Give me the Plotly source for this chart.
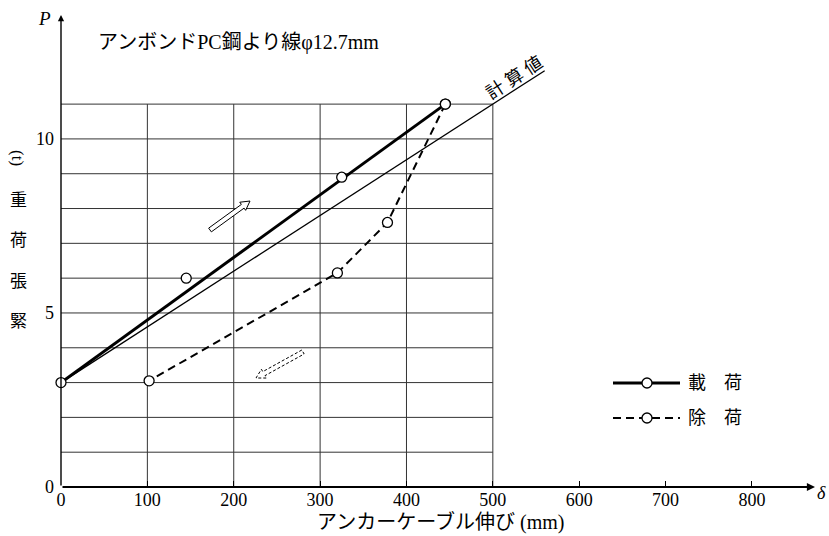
import math
import plotly.graph_objects as go

# ---- data ----
load_line_x = [0, 445]
load_line_y = [3.0, 11.0]
load_pts_x = [0, 145, 325, 445]
load_pts_y = [3.0, 6.0, 8.9, 11.0]

unload_x = [445, 378, 320, 102]
unload_y = [11.0, 7.6, 6.15, 3.05]

calc_x = [0, 560]
calc_y = [3.0, 11.96]

x_ticks = [0, 100, 200, 300, 400, 500, 600, 700, 800]
y_ticks = [0, 5, 10]
grid_x = [100, 200, 300, 400, 500]
grid_y = [1, 2, 3, 4, 5, 6, 7, 8, 9, 10, 11]

XMAX, YMAX = 873, 13.56
L, R, T, B = 61, 14, 15, 49
W, H = 829, 536
PXX = (W - L - R) / XMAX
PXY = (H - T - B) / YMAX

SERIF = "Liberation Serif, Noto Sans CJK JP"
DASH = "8px,5px"


def px2d(px, py):
    return (px - L) / PXX, (H - B - py) / PXY


fig = go.Figure()

# calculated line
fig.add_trace(go.Scatter(x=calc_x, y=calc_y, mode="lines",
                         line=dict(color="black", width=1.3), showlegend=False,
                         hoverinfo="skip"))
# loading
fig.add_trace(go.Scatter(x=load_line_x, y=load_line_y, mode="lines",
                         line=dict(color="black", width=3), showlegend=False))
# unloading
fig.add_trace(go.Scatter(x=unload_x, y=unload_y, mode="lines",
                         line=dict(color="black", width=2, dash=DASH),
                         showlegend=False))
# markers
for xs, ys in [(load_pts_x, load_pts_y), (unload_x, unload_y)]:
    fig.add_trace(go.Scatter(x=xs, y=ys, mode="markers", cliponaxis=False,
                             marker=dict(size=10, color="white",
                                         line=dict(color="black", width=1.3)),
                             showlegend=False))

shapes = []
# grid
for gx in grid_x:
    shapes.append(dict(type="line", xref="x", yref="y", x0=gx, x1=gx, y0=0, y1=11,
                       line=dict(color="#333", width=1), layer="below"))
for gy in grid_y:
    shapes.append(dict(type="line", xref="x", yref="y", x0=0, x1=500, y0=gy, y1=gy,
                       line=dict(color="#333", width=1), layer="below"))


def hollow_arrow(x0, y0, x1, y1, dash="solid", w=2.3, hw=5.0, hl=9.0):
    dx, dy = x1 - x0, y1 - y0
    ln = math.hypot(dx, dy)
    ux, uy = dx / ln, dy / ln
    nx, ny = -uy, ux
    bx, by = x1 - ux * hl, y1 - uy * hl
    pts = [(x0 + nx * w, y0 + ny * w), (bx + nx * w, by + ny * w),
           (bx + nx * hw, by + ny * hw), (x1, y1),
           (bx - nx * hw, by - ny * hw), (bx - nx * w, by - ny * w),
           (x0 - nx * w, y0 - ny * w)]
    d = [px2d(*p) for p in pts]
    path = "M " + " L ".join(f"{a:.3f},{b:.3f}" for a, b in d) + " Z"
    return dict(type="path", xref="x", yref="y", path=path,
                fillcolor="white", line=dict(color="black", width=1, dash=dash))


shapes.append(hollow_arrow(210, 230, 250, 201))
shapes.append(hollow_arrow(303, 352, 256, 378, dash="3px,2px"))


# manual legend (paper pixel positions)
def pp(px, py):
    return (px - L) / (W - L - R), (H - B - py) / (H - T - B)


for ly, dash, wd in [(383, "solid", 3), (418, DASH, 2)]:
    xa, ya = pp(613, ly)
    xb, _ = pp(680, ly)
    shapes.append(dict(type="line", xref="paper", yref="paper", x0=xa, x1=xb,
                       y0=ya, y1=ya, line=dict(color="black", width=wd, dash=dash)))
    cx0, cy0 = pp(642, ly - 5)
    cx1, cy1 = pp(652, ly + 5)
    shapes.append(dict(type="circle", xref="paper", yref="paper", x0=cx0, x1=cx1,
                       y0=cy1, y1=cy0, fillcolor="white",
                       line=dict(color="black", width=1.3)))

annotations = []
# axes arrows
annotations.append(dict(x=XMAX, y=0, ax=0, ay=0, axref="x", ayref="y", xref="x", yref="y",
                        showarrow=True, arrowhead=2, arrowsize=0.9, arrowwidth=1.8,
                        arrowcolor="black", text=""))
annotations.append(dict(x=0, y=YMAX, ax=0, ay=0, axref="x", ayref="y", xref="x", yref="y",
                        showarrow=True, arrowhead=2, arrowsize=0.9, arrowwidth=1.4,
                        arrowcolor="black", text=""))


def txt(px, py, text, size, family=SERIF, angle=0, xanchor="center", italic=False):
    x, y = pp(px, py)
    t = f"<i>{text}</i>" if italic else text
    annotations.append(dict(x=x, y=y, xref="paper", yref="paper", text=t,
                            showarrow=False, textangle=angle, xanchor=xanchor,
                            yanchor="middle", font=dict(family=family, size=size,
                                                        color="black")))


txt(44, 19, "P", 19, italic=True)
txt(821, 493, "δ", 18, italic=True)
txt(96, 43, "アンボンドPC鋼より線φ12.7mm", 20, xanchor="left")
txt(440, 522, "アンカーケーブル伸び (mm)", 20)
for ch, yy in [("緊", 322), ("張", 281), ("荷", 241), ("重", 201)]:
    txt(18, yy, ch, 17)
txt(18, 158, "(t)", 17, angle=90)
txt(514, 78, "計 算 値", 18, angle=-33)
txt(686, 383, "載　荷", 18, xanchor="left")
txt(686, 418, "除　荷", 18, xanchor="left")

fig.update_layout(
    width=W, height=H, autosize=False,
    margin=dict(l=L, r=R, t=T, b=B),
    plot_bgcolor="white", paper_bgcolor="white",
    showlegend=False,
    shapes=shapes, annotations=annotations,
    xaxis=dict(range=[0, XMAX], showgrid=False, zeroline=False, showline=False,
               tickvals=x_ticks, ticktext=[str(v) for v in x_ticks],
               ticks="inside", ticklen=6, tickcolor="black",
               tickfont=dict(family=SERIF, size=18, color="black")),
    yaxis=dict(range=[0, YMAX], showgrid=False, zeroline=False, showline=False,
               tickvals=y_ticks, ticktext=[str(v) for v in y_ticks],
               ticks="", ticklabelstandoff=6,
               tickfont=dict(family=SERIF, size=18, color="black")),
)

fig.write_html("out.html")
